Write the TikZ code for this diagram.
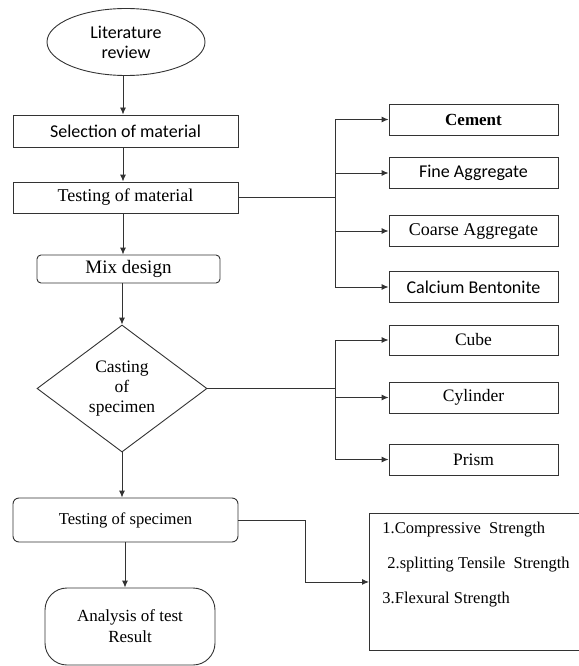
\documentclass[tikz,border=0pt]{standalone}
\usepackage{fontspec}
\setmainfont{Liberation Serif}
\newfontfamily\sansf{Carlito}
\usetikzlibrary{shapes.geometric,arrows.meta}
\begin{document}
\begin{tikzpicture}[x=1pt,y=-1pt,
  line width=0.9pt,
  every node/.style={draw=black!80, inner sep=0pt},
  boxsty/.style={rectangle, minimum width=225pt, minimum height=32pt, align=center},
  sidebox/.style={rectangle, minimum width=169pt, minimum height=31pt, font=\fontsize{17.5}{20}\selectfont},
  arr/.style={draw=black!80, -{Latex[length=7pt,width=6pt]}},
  lnk/.style={draw=black!80},
  plain/.style={draw=none, font=\fontsize{16.5}{19}\selectfont}
]
\useasboundingbox (0,0) rectangle (578,666);

% main column
\node[ellipse, minimum width=158pt, minimum height=67pt, align=center,
      font=\sansf\fontsize{18}{20}\selectfont] (lit) at (126,42) {Literature\\review};
\node[boxsty, font=\sansf\fontsize{18}{20}\selectfont] (sel) at (125.5,131) {Selection of material};
\node[boxsty, minimum height=31pt, font=\fontsize{18}{20}\selectfont] (tm) at (125.5,197.5) {Testing of material};
\node[rectangle, rounded corners=4pt, minimum width=183pt, minimum height=28pt,
      font=\fontsize{19}{20}\selectfont] (mix) at (128.5,269) {Mix design};
\node[diamond, minimum width=170pt, minimum height=127pt, align=center,
      font=\fontsize{17.5}{20}\selectfont] (cast) at (122,388.5) {Casting\\of\\specimen};
\node[rectangle, rounded corners=6pt, minimum width=225pt, minimum height=44pt,
      font=\fontsize{16.6}{20}\selectfont] (ts) at (125.5,520) {Testing of specimen};
\node[rectangle, rounded corners=22pt, minimum width=170pt, minimum height=77pt, align=center,
      font=\fontsize{17}{21}\selectfont] (ana) at (130,626.5) {Analysis of test\\Result};

% main arrows
\draw[arr] (lit.south -| 123,0) -- (sel.north -| 123,0);
\draw[arr] (sel.south -| 123,0) -- (tm.north -| 123,0);
\draw[arr] (tm.south -| 123,0) -- (mix.north -| 123,0);
\draw[arr] (mix.south -| cast.north) -- (cast.north);
\draw[arr] (cast.south) -- (cast.south |- ts.north);
\draw[arr] (ts.south -| 125,0) -- (ana.north -| 125,0);

% materials
\node[sidebox, font=\bfseries\fontsize{17}{20}\selectfont] (cem) at (473.5,119.5) {Cement};
\node[sidebox, font=\sansf\fontsize{18}{20}\selectfont] (fa) at (473.5,173) {Fine Aggregate};
\node[sidebox, font=\fontsize{18}{20}\selectfont] (ca) at (473.5,231) {Coarse Aggregate};
\node[sidebox, font=\sansf\fontsize{18}{20}\selectfont] (cb) at (473.5,287) {Calcium Bentonite};
\coordinate (j1) at (335,197);
\draw[lnk] (tm.east) -- (tm.east -| j1);
\draw[lnk] (j1 |- cem.west) -- (j1 |- cb.west);
\draw[arr] (j1 |- cem.west) -- (cem.west);
\draw[arr] (j1 |- fa.west) -- (fa.west);
\draw[arr] (j1 |- ca.west) -- (ca.west);
\draw[arr] (j1 |- cb.west) -- (cb.west);

% specimens
\node[sidebox, minimum height=30pt] (cube) at (473.5,340) {Cube};
\node[sidebox] (cyl) at (473.5,397.5) {Cylinder};
\node[sidebox] (pr) at (473.5,459.5) {Prism};
\coordinate (j2) at (335,388);
\draw[lnk] (cast.east) -- (cast.east -| j2);
\draw[lnk] (j2 |- cube.west) -- (j2 |- pr.west);
\draw[arr] (j2 |- cube.west) -- (cube.west);
\draw[arr] (j2 |- cyl.west) -- (cyl.west);
\draw[arr] (j2 |- pr.west) -- (pr.west);

% tests
\node[rectangle, minimum width=240pt, minimum height=137pt, anchor=north west] (sb) at (369,513) {};
\node[plain, anchor=base west] (t1) at (382,533) {1.Compressive\ \ Strength};
\node[plain, anchor=base west] (t2) at (387,568) {2.splitting Tensile\ \ Strength};
\node[plain, anchor=base west] (t3) at (382,603) {3.Flexural Strength};
\coordinate (j3) at (305,520);
\draw[arr] (ts.east) -- (ts.east -| j3) -- (j3 |- sb.west) -- (sb.west);
\end{tikzpicture}
\end{document}
